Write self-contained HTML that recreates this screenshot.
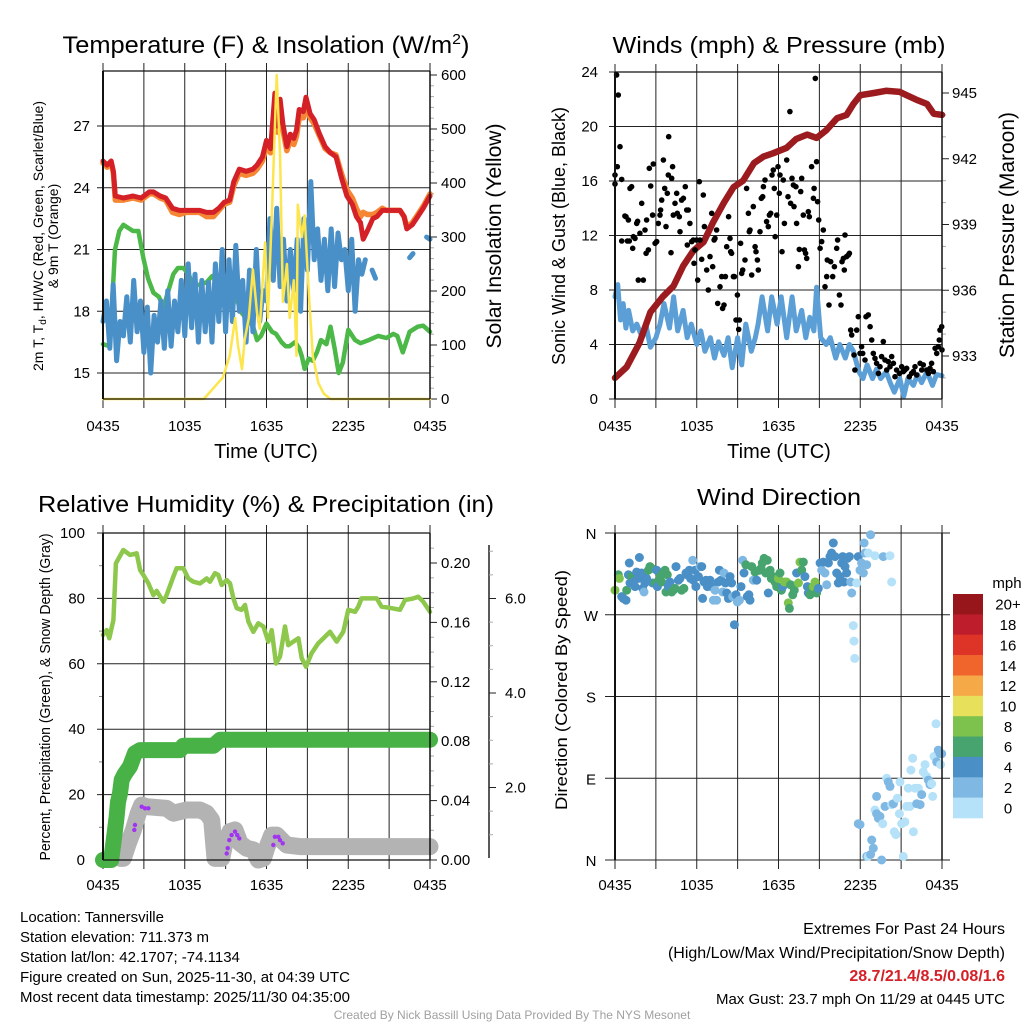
<!DOCTYPE html>
<html><head><meta charset="utf-8"><title>Tannersville Meteogram</title>
<style>
html,body{margin:0;padding:0;background:#fff;}
svg{display:block;font-family:"Liberation Sans",Arial,sans-serif;}
</style></head>
<body>
<svg id="root" xmlns="http://www.w3.org/2000/svg" width="1024" height="1024" viewBox="0 0 1024 1024">
<rect x="0" y="0" width="1024" height="1024" fill="#fff"/>
<g id="p1"></g>
<g id="p2"></g>
<g id="p3"></g>
<g id="p4"></g>

<text x="266" y="53" font-size="24" text-anchor="middle" textLength="407" lengthAdjust="spacingAndGlyphs">Temperature (F) &amp; Insolation (W/m<tspan dy="-9" font-size="15">2</tspan><tspan dy="9">)</tspan></text>
<text x="779" y="53" font-size="23" text-anchor="middle" textLength="333" lengthAdjust="spacingAndGlyphs">Winds (mph) &amp; Pressure (mb)</text>
<text x="266" y="512" font-size="23" text-anchor="middle" textLength="456" lengthAdjust="spacingAndGlyphs">Relative Humidity (%) &amp; Precipitation (in)</text>
<text x="779" y="505" font-size="23" text-anchor="middle" textLength="164" lengthAdjust="spacingAndGlyphs">Wind Direction</text>

<text transform="translate(43,236) rotate(-90)" font-size="14" text-anchor="middle" textLength="270" lengthAdjust="spacingAndGlyphs">2m T, T<tspan font-size="10" dy="3">d</tspan><tspan dy="-3">, HI/WC (Red, Green, Scarlet/Blue)</tspan></text>
<text transform="translate(58,236) rotate(-90)" font-size="14" text-anchor="middle">&amp; 9m T (Orange)</text>
<text transform="translate(501,236) rotate(-90)" font-size="21" text-anchor="middle" textLength="225" lengthAdjust="spacingAndGlyphs">Solar Insolation (Yellow)</text>
<text x="266" y="458" font-size="20" text-anchor="middle">Time (UTC)</text>

<text transform="translate(565,236) rotate(-90)" font-size="18" text-anchor="middle" textLength="258" lengthAdjust="spacingAndGlyphs">Sonic Wind &amp; Gust (Blue, Black)</text>
<text transform="translate(1014,235) rotate(-90)" font-size="21" text-anchor="middle" textLength="246" lengthAdjust="spacingAndGlyphs">Station Pressure (Maroon)</text>
<text x="779" y="458" font-size="20" text-anchor="middle">Time (UTC)</text>

<text transform="translate(50,697) rotate(-90)" font-size="15" text-anchor="middle" textLength="327" lengthAdjust="spacingAndGlyphs">Percent, Precipitation (Green), &amp; Snow Depth (Gray)</text>
<text transform="translate(567,690) rotate(-90)" font-size="17" text-anchor="middle" textLength="240" lengthAdjust="spacingAndGlyphs">Direction (Colored By Speed)</text>

<g font-size="15">
<text x="20" y="922">Location: Tannersville</text>
<text x="20" y="942">Station elevation: 711.373 m</text>
<text x="20" y="962">Station lat/lon: 42.1707; -74.1134</text>
<text x="20" y="982">Figure created on Sun, 2025-11-30, at 04:39 UTC</text>
<text x="20" y="1002">Most recent data timestamp: 2025/11/30 04:35:00</text>
</g>
<g font-size="16" text-anchor="end">
<text x="1005" y="934">Extremes For Past 24 Hours</text>
<text x="1005" y="958">(High/Low/Max Wind/Precipitation/Snow Depth)</text>
<text x="1005" y="981" fill="#d42027" font-weight="bold">28.7/21.4/8.5/0.08/1.6</text>
<text x="1005" y="1004" font-size="15">Max Gust: 23.7 mph On 11/29 at 0445 UTC</text>
</g>
<text x="512" y="1019" font-size="12" fill="#a0a0a0" text-anchor="middle">Created By Nick Bassill Using Data Provided By The NYS Mesonet</text>
</svg>

<script>
// ---------------- DATA ----------------
const timeTicks = ["0435","1035","1635","2235","0435"];
// Panel 1
const redH = [0,0.3,0.6,0.76,0.9,1.5,2.2,2.8,3.4,3.7,4.2,4.6,5.1,5.6,6.1,6.6,7.1,7.6,8.1,8.5,8.9,9.3,9.6,10.0,10.5,11.0,11.3,11.7,12.0,12.3,12.62,12.8,13.0,13.2,13.5,13.75,14.0,14.2,14.4,14.7,14.9,15.2,15.5,15.9,16.3,16.7,17.1,17.5,17.9,18.3,18.6,18.9,19.1,19.4,19.8,20.1,20.5,20.8,21.3,21.8,22.1,22.3,22.7,23.0,23.5,24];
const redV = [25.3,25.1,25.3,24.8,23.6,23.5,23.6,23.5,23.8,23.8,23.6,23.5,23.0,22.9,22.9,22.9,22.9,22.8,22.8,23.0,23.3,23.4,24.3,24.9,24.8,24.9,25.1,25.5,26.3,25.9,28.6,27.0,28.3,27.1,26.0,26.6,26.4,26.8,27.8,27.7,28.4,27.6,27.3,26.6,26.0,25.7,25.5,24.5,23.6,23.2,22.6,22.3,21.5,21.9,22.5,22.6,22.9,22.9,22.9,22.9,22.6,22.0,22.2,22.5,23.0,23.6];
const orangeV = [25.2,25.0,25.2,24.7,23.4,23.4,23.5,23.4,23.7,23.7,23.5,23.4,22.8,22.7,22.8,22.8,22.8,22.6,22.6,22.9,23.2,23.3,24.1,24.7,24.6,24.7,24.9,25.3,26.0,25.7,28.2,26.7,27.9,26.8,25.8,26.3,26.1,26.5,27.4,27.4,28.0,27.4,27.1,26.5,25.9,25.7,25.6,24.7,23.9,23.5,23.0,22.6,22.8,22.7,22.7,22.8,23.0,22.9,22.9,22.9,22.6,22.1,22.3,22.6,23.1,23.7];
const greenH = [0,0.5,0.88,1.2,1.5,2.2,2.6,2.96,3.3,3.7,4.1,4.43,4.8,5.16,5.5,5.9,6.3,6.6,7.1,7.6,8.0,8.34,8.8,9.3,9.8,10.2,10.6,11.0,11.3,11.6,12.0,12.4,12.7,13.1,13.4,13.7,14.1,14.4,14.6,14.8,15.1,15.4,15.7,16.0,16.4,16.7,17.0,17.3,17.6,18.0,18.5,18.9,19.5,20.2,20.8,21.3,21.6,22.0,22.5,23.1,23.5,24];
const greenV = [16.4,16.3,21.0,21.9,22.2,21.9,21.9,20.6,19.6,18.9,18.7,18.2,19.0,19.8,20.1,20.1,19.8,19.2,19.3,19.4,19.7,19.8,19.3,18.5,18.6,17.9,17.6,17.3,16.6,16.8,17.4,17.0,16.9,16.5,16.3,16.3,16.5,16.2,15.8,15.2,15.7,15.6,16.0,16.6,16.4,17.25,16.2,15.0,15.5,17.1,16.6,16.45,16.6,16.8,16.7,16.9,16.8,16.0,17.0,17.25,17.3,17.0];
// wind chill, every 15 minutes from 0435
const chillV = [17.5,18.5,16.2,19.3,15.6,17.5,16.8,18.7,16.5,19.5,17.0,18.5,16.0,18.2,15.0,17.8,16.5,18.5,16.2,19.0,
16.3,18.5,17.0,19.5,16.8,20.3,17.2,19.8,16.5,19.5,17.0,19.4,16.5,20.3,17.5,21.0,17.0,20.5,17.5,21.2,
18.0,19.5,16.5,20.0,17.0,21.0,17.5,19.0,18.5,22.5,19.5,23.0,19.2,21.5,18.5,21.0,19.0,21.5,18.0,22.5,
20.0,24.3,20.5,22.0,19.5,21.5,19.0,22.0,19.2,21.8,20.5,21.0,19.0,21.5,18.0,20.5,19.8,20.5,null,20.0,
19.6,null,null,null,null,null,null,null,null,null,20.6,20.8,null,null,null,21.6,21.5];
const solH = [0,7.4,8.1,8.8,9.3,9.7,9.9,10.2,10.4,10.7,11.0,11.3,11.5,11.9,12.1,12.4,12.75,13.0,13.2,13.5,13.7,14.0,14.2,14.3,14.6,14.8,15.1,15.4,15.8,16.2,16.7,24];
const solV = [0,0,20,40,80,150,100,55,110,150,240,160,130,290,150,350,600,450,180,250,150,220,80,360,300,340,200,80,30,10,0,0];
const tTicks = [15,18,21,24,27];
const solTicks = [0,100,200,300,400,500,600];
// Panel 2
const presH = [0,0.86,1.8,2.6,3.5,4.3,5.0,5.75,6.5,7.2,8.0,8.7,9.4,10.2,10.9,11.6,12.6,13.3,14.1,14.8,15.5,16.3,17.0,17.5,18.0,19.0,19.9,20.9,21.4,22.1,22.9,23.4,24];
const presV = [932.0,932.5,933.6,935.0,935.7,936.2,937.1,937.8,938.2,939.1,940.0,940.7,941.0,941.8,942.1,942.25,942.5,942.9,943.1,942.95,943.3,943.85,944.0,944.5,944.9,945.0,945.1,945.05,944.9,944.7,944.5,944.05,944.0];
const windH = [0,0.2,0.4,0.6,0.8,1.0,1.3,1.6,2.0,2.3,2.6,3.0,3.3,3.6,4.0,4.3,4.6,5.0,5.3,5.6,6.0,6.3,6.6,7.0,7.3,7.6,8.0,8.3,8.6,9.0,9.3,9.6,10.0,10.3,10.5,10.8,11.2,11.5,11.9,12.2,12.6,13.0,13.3,13.7,14.0,14.3,14.6,14.8,15.1,15.5,15.8,16.2,16.5,16.9,17.2,17.5,17.9,18.2,18.5,18.9,19.2,19.5,19.9,20.2,20.5,20.9,21.2,21.5,21.9,22.2,22.5,22.9,23.3,23.6,24];
const windV = [7.5,8.4,5.8,7.0,5.2,6.5,5.0,5.5,4.5,5.3,3.8,4.5,5.5,7.0,5.2,7.5,5.0,6.5,4.5,5.5,4.0,5.0,3.5,4.5,3.0,4.2,3.2,4.5,2.3,4.5,2.5,5.5,3.5,4.5,5.5,7.5,5.0,7.5,5.5,7.5,4.5,7.5,5.0,6.5,4.5,6.0,5.0,8.2,4.5,4.0,4.5,3.0,4.0,3.0,4.0,3.5,2.0,1.5,2.5,1.5,2.2,1.5,2.0,1.2,0.5,1.5,0.2,1.5,1.0,1.8,1.2,2.0,1.0,1.8,1.7];
const gustH = [0,0,0.12,0.24,0.17,0.37,0.49,0.49,0.73,0.81,0.91,1.05,0.98,1.1,1.22,1.35,1.3,1.47,1.59,1.66,1.71,1.83,1.96,2.08,2.2,2.32,2.28,2.45,2.52,2.62,2.76,2.81,2.94,3.06,3.18,3.3,3.35,3.43,3.55,3.65,3.74,3.84,3.91,3.94,4.11,4.16,4.23,4.28,4.4,4.53,4.57,4.72,4.77,4.89,5.02,5.16,5.26,5.31,5.38,5.5,5.63,5.75,5.8,5.87,5.99,6.07,6.19,6.24,6.36,6.48,6.56,6.73,6.85,6.97,7.1,7.17,7.27,7.34,7.46,7.54,7.71,7.83,7.9,8.0,8.1,8.2,8.34,8.44,8.49,8.56,8.69,8.76,8.88,8.98,9.08,9.13,9.22,9.3,9.37,9.54,9.66,9.79,9.86,9.91,10.03,10.15,10.28,10.35,10.45,10.52,10.64,10.74,10.84,10.89,11.01,11.13,11.25,11.33,11.43,11.52,11.62,11.69,11.76,11.87,11.96,12.06,12.11,12.26,12.35,12.43,12.6,12.7,12.84,12.89,12.99,13.09,13.14,13.28,13.33,13.46,13.53,13.63,13.7,13.82,13.9,13.99,14.07,14.19,14.26,14.43,14.56,14.61,14.7,14.8,14.87,14.95,15.05,15.17,15.29,15.41,15.54,15.58,15.71,15.83,15.98,16.1,16.27,16.34,16.47,16.59,16.66,16.76,16.83,16.88,17.0,17.13,17.2,17.3,17.37,17.54,17.61,17.74,17.86,17.98,18.1,18.18,18.35,18.42,18.59,18.72,18.84,18.96,19.08,19.2,19.33,19.45,19.57,19.69,19.82,19.94,20.06,20.18,20.31,20.43,20.55,20.67,20.87,21.04,21.16,21.28,21.41,21.6,21.77,21.9,22.02,22.14,22.39,22.51,22.63,22.87,23.0,23.12,23.24,23.36,23.49,23.61,23.73,23.8,23.85,23.98,24.0];
const gustV = [16.44,15.78,23.78,22.31,17.05,18.52,16.12,11.6,13.43,13.38,11.6,11.6,13.14,15.46,15.58,11.91,11.06,11.79,12.89,13.04,8.73,12.16,14.36,8.73,12.4,13.14,10.69,10.94,16.93,15.63,13.5,17.25,11.43,11.55,12.89,13.5,13.87,14.6,17.54,15.46,12.65,15.1,16.44,19.25,10.74,16.2,17.05,13.5,14.36,15.1,13.63,13.38,12.28,14.6,14.73,15.58,13.87,11.3,13.87,12.89,11.55,11.67,9.96,10.94,11.67,8.73,15.95,11.67,10.25,14.97,12.65,9.47,8.0,10.45,13.63,9.71,11.67,11.79,12.4,7.02,8.24,8.98,6.65,6.9,8.98,11.18,13.38,11.79,10.81,10.69,8.98,8.98,5.8,7.63,5.11,5.8,11.43,9.22,9.47,10.2,15.46,13.63,12.28,12.4,9.1,14.12,11.18,10.81,10.2,9.47,12.28,14.73,14.85,15.58,16.07,13.02,12.65,13.5,13.63,16.44,16.81,15.46,11.91,13.5,17.05,15.1,16.44,10.81,16.07,12.89,17.54,14.85,21.09,14.36,16.2,15.71,14.12,15.58,12.89,9.71,10.98,15.22,16.2,13.5,10.94,10.69,10.32,13.75,13.38,17.05,14.73,15.46,23.53,17.42,14.48,13.14,11.06,11.55,12.4,8.24,8.98,10.2,6.9,10.08,8.98,9.71,11.06,11.67,7.63,6.9,10.08,10.32,9.47,12.04,10.45,10.57,10.69,5.06,4.7,3.23,2.13,5.06,6.04,3.35,3.84,3.35,2.86,6.04,6.17,5.31,4.33,3.35,2.98,2.62,1.88,2.37,3.11,4.21,2.86,2.13,2.74,2.37,3.11,2.62,1.64,2.13,1.88,2.37,2.01,2.13,2.25,1.64,1.88,2.01,2.37,1.76,2.62,2.13,2.5,2.13,1.88,2.25,2.62,2.01,3.72,3.35,3.84,4.33,5.06,5.31,3.6];
const windTicks = [0,4,8,12,16,20,24];
const presTicks = [933,936,939,942,945];
// Panel 3
const rhH = [0,0.27,0.46,0.76,0.95,1.49,1.98,2.47,2.72,2.96,3.33,3.7,3.94,4.43,4.67,5.16,5.4,5.9,6.26,6.63,7.12,7.61,7.85,8.22,8.46,8.71,9.08,9.32,9.57,9.81,10.18,10.42,10.67,11.03,11.4,11.77,12.13,12.38,12.7,12.99,13.36,13.6,13.97,14.34,14.58,14.9,15.31,15.8,16.29,16.66,17.15,17.64,18.0,18.5,18.74,18.98,19.6,20.09,20.45,21.19,21.8,22.17,22.78,23.14,23.51,24];
const rhV = [68.8,70.3,67.8,73.4,90.7,94.8,93.3,93.8,88.7,87.2,84.6,81.0,82.3,79.0,81.0,86.6,89.2,89.2,86.1,85.1,84.6,86.1,85.1,87.7,87.2,84.1,85.6,84.6,80.0,77.0,76.5,78.0,72.9,69.8,72.4,71.4,66.8,70.3,60.1,62.2,71.4,65.7,66.8,67.8,61.7,59.1,63.2,66.3,68.3,69.8,66.8,69.8,76.5,75.9,77.5,80.0,80.0,80.0,77.5,77.0,76.5,79.5,80.0,80.5,79.0,75.9];
const precipH = [0,0.6,0.88,1.0,1.1,1.25,1.37,1.6,1.98,2.35,2.72,5.65,5.9,8.1,8.6,24];
const precipV = [0,0,0.020,0.029,0.039,0.045,0.054,0.058,0.063,0.072,0.074,0.074,0.077,0.077,0.081,0.081];
const snowH = [1.3,1.49,1.86,2.23,2.59,2.84,3.2,4.67,5.16,6.14,7.12,7.61,7.98,8.1,8.22,8.71,8.95,9.32,9.69,10.06,10.54,11.03,11.4,11.77,12.01,12.38,12.75,13.11,13.48,14.46,24];
const snowV = [0.5,0.5,5.1,9.2,14.3,16.8,16.3,15.8,14.3,15.3,15.3,14.3,12.2,6.1,0.5,0.5,5.1,8.7,9.2,5.1,3.6,3.1,0,0.5,3.6,7.6,7.6,6.1,4.6,4.1,4.1];
const flagH = [2.35,2.3,2.84,3.08,3.33,9.08,9.15,9.27,9.44,9.69,9.86,10.0,12.5,12.62,12.87,12.99,13.19];
const flagV = [10.7,9.2,16.3,15.8,15.8,2.0,3.6,6.1,7.6,8.7,7.6,6.6,4.6,7.1,7.1,6.1,5.1];
const pctTicks = [0,20,40,60,80,100];
const prTicks = [0.00,0.04,0.08,0.12,0.16,0.20];
const snowAxisTicks = ["2.0","4.0","6.0"];
// Panel 4
const dirH = [0,0.24,0.32,0.49,0.61,0.81,0.86,0.98,1.1,1.05,1.22,1.35,1.47,1.59,1.71,1.79,1.96,2.03,2.13,2.2,2.32,2.45,2.57,2.69,2.76,2.94,3.06,3.11,3.3,3.43,3.55,3.67,3.74,3.84,3.91,4.04,4.16,4.28,4.4,4.48,4.65,4.77,4.89,5.06,5.21,5.31,5.46,5.55,5.7,5.75,5.87,5.94,6.12,6.24,6.36,6.43,6.53,6.68,6.78,6.9,6.97,7.09,7.22,7.34,7.46,7.58,7.66,7.78,7.9,8.0,8.1,8.2,8.32,8.44,8.56,8.64,8.76,8.88,8.98,9.13,9.25,9.37,9.47,9.61,9.71,9.83,9.91,10.03,10.15,10.28,10.4,10.59,10.72,10.81,10.94,11.06,11.18,11.25,11.38,11.47,11.62,11.74,11.87,11.99,12.11,12.21,12.31,12.43,12.6,12.72,12.8,12.89,13.04,13.16,13.33,13.46,13.58,13.7,13.82,13.94,14.12,14.19,14.31,14.43,14.56,14.68,14.8,14.92,15.05,15.17,15.29,15.41,15.54,15.66,15.78,15.9,16.02,16.15,16.27,16.39,16.51,16.64,16.71,16.81,16.88,17.0,17.05,17.2,17.3,17.37,17.49,17.54,17.59,17.74,17.86,17.98,18.1,18.23,18.28,18.35,18.47,18.59,18.76,19.08,19.69,20.18,20.31,
17.86,17.98,18.47,18.59,18.76,18.84,18.96,19.08,19.2,19.33,19.45,19.57,19.65,19.2,19.82,19.94,20.06,20.18,20.31,20.43,20.5,20.62,20.72,20.87,20.92,21.04,21.16,21.28,21.41,21.53,21.65,21.72,21.85,21.9,22.02,22.14,22.26,22.39,22.51,22.63,22.75,22.87,23.0,23.12,23.24,23.32,23.41,23.56,23.61,23.73,23.85,23.9,23.98];
const dirDeg = [297,314,310,290,288,286,297,314,305,327,312,306,301,317,310,333,316,299,295,305,310,319,323,321,305,305,319,301,312,306,316,319,295,314,301,306,295,297,299,323,308,310,297,299,316,314,319,310,330,308,319,301,312,323,323,288,306,308,301,306,308,301,286,297,286,306,319,308,295,316,305,294,288,312,305,290,259,292,284,286,301,330,316,325,290,292,286,323,308,317,308,319,321,327,332,316,330,294,319,310,312,306,301,310,316,297,301,306,306,283,277,303,292,297,316,305,328,319,328,312,301,294,292,299,301,306,294,299,327,319,328,316,303,327,334,338,349,334,316,305,312,327,334,306,323,316,332,334,306,294,258,241,222,305,334,319,327,316,349,338,325,338,358,335,334,335,306,
40,39,4,4,6,22,13,55,51,46,48,0,40,70,59,90,86,81,61,62,31,28,68,51,86,40,4,42,59,79,59,99,112,31,79,62,79,61,72,97,105,92,88,83,84,70,114,150,108,121,117,105,117];
const dirSpd = [9,7,9,5,5,5,7,5,5,5,7,5,5,5,5,5,5,5,3,5,5,7,7,7,5,7,5,5,7,7,7,7,7,7,5,5,7,7,7,5,5,5,7,7,5,5,5,5,3,5,5,5,5,3,5,5,5,5,5,5,5,5,3,3,3,5,5,5,3,3,5,5,5,5,5,3,5,5,3,3,5,3,5,7,5,5,5,7,3,7,5,7,7,7,7,7,7,5,7,7,7,7,7,9,7,7,5,9,9,9,7,7,7,7,5,9,9,7,7,5,5,5,7,7,9,9,7,5,5,3,5,3,3,5,5,5,5,5,5,5,5,5,5,5,5,5,5,5,3,3,1,1,1,1,5,3,3,3,3,3,3,1,3,1,3,1,1,
3,3,3,1,3,3,3,1,3,3,3,3,1,3,3,1,3,3,1,3,1,1,1,1,1,1,1,1,1,1,1,1,1,1,1,3,1,3,3,1,1,1,3,3,1,1,1,1,3,3,3,1,3];
const dirTicks = ["N","E","S","W","N"];
const speedBins = ["0","2","4","6","8","10","12","14","16","18","20+"];
const speedColors = ["#b5e2f8","#7fb9e3","#4a8fc6","#48a46f","#7cc24d","#e6e05a","#f6a947","#f0652b","#de3428","#be1e2b","#96161c"];

// --------------- SCALES ---------------
const NS = "http://www.w3.org/2000/svg";
function mk(tag, parent){ const e = document.createElementNS(NS, tag); parent.appendChild(e); return e; }
function setA(e, o){ for (const k in o) e.setAttribute(k, o[k]); return e; }
const xL = h => 103 + h * 327 / 24;
const xR = h => 615 + h * 327 / 24;
const yT = v => 373 - (v - 15) * (247 / 12);
const yS = v => 399 - v * (324 / 600);
const yW = v => 399 - v * (327 / 24);
const yP = p => 93 + (945 - p) * (263 / 12);
const yRH = v => 860 - v * 3.27;
const yPr = p => 860 - p * 1485;
const ySnowAx = v => 882 - v * 47.25;
const yD = d => 860 - d * (327 / 360);

function pathD(hs, vs, fx, fy){
  let d = "", pen = false;
  for (let i = 0; i < vs.length; i++) {
    if (vs[i] === null) { pen = false; continue; }
    d += (pen ? "L" : "M") + fx(hs[i]).toFixed(1) + "," + fy(vs[i]).toFixed(1);
    pen = true;
  }
  return d;
}
function line(g, x1, y1, x2, y2, col, w, name){
  const e = mk("line", g);
  setA(e, {x1:x1, y1:y1, x2:x2, y2:y2, stroke:col, "stroke-width":w});
  
  
  return e;
}
function label(g, x, y, txt, anchor, size, name){
  const e = mk("text", g);
  setA(e, {x:x, y:y, "text-anchor":anchor, "font-size":size});
  e.textContent = txt;
  
  
  return e;
}
function series(g, d, col, w, name, cap){
  const e = mk("path", g);
  setA(e, {d:d, fill:"none", stroke:col, "stroke-width":w, "stroke-linejoin":"round", "stroke-linecap":cap||"round"});
  
  
  return e;
}
function timeGrid(g, fx, top, bot, labelY){
  for (let k = 0; k <= 8; k++) {
    const x = fx(k * 3);
    line(g, x, top - 8, x, bot + 9, "#222", 1, "x-gridline");
    if (k % 2 === 0) label(g, x, labelY, timeTicks[k / 2], "middle", 15, "x-tick-label");
  }
}

// --------------- PANEL 1 ---------------
(function(){
  const g = document.getElementById("p1");
  timeGrid(g, xL, 71, 399, 431);
  tTicks.forEach(v => { line(g, 97, yT(v), 430, yT(v), "#222", 1, "y-gridline"); label(g, 90, yT(v) + 5, String(v), "end", 15, "temp-tick-label"); });
  for (let v = 0; v <= 600; v += 20) {
    const major = v % 100 === 0;
    line(g, 430, yS(v), major ? 437 : 434, yS(v), major ? "#222" : "#aaa", 1, major ? "insolation-tick" : "insolation-minor-tick");
  }
  solTicks.forEach(v => label(g, 441, yS(v) + 5, String(v), "start", 15, "insolation-tick-label"));
  series(g, pathD(greenH, greenV, xL, yT), "#4cb848", 4.5, "dewpoint-line");
  const chillH = chillV.map((_, i) => i * 0.25);
  series(g, pathD(chillH, chillV, xL, yT), "#4a90c8", 5, "wind-chill-line");
  series(g, pathD(redH, orangeV, xL, yT), "#f58634", 5.5, "temperature-9m-line");
  series(g, pathD(redH, redV, xL, yT), "#d42027", 5, "temperature-2m-line");
  series(g, pathD(solH, solV, xL, yS), "#fde54d", 2.5, "insolation-line");
  line(g, 103, 71, 430, 71, "#111", 1.2, "plot-top-border");
  line(g, 103, 399, 430, 399, "#111", 1.2, "plot-bottom-border");
  line(g, 103, 71, 103, 399, "#111", 2, "left-axis-line");
  line(g, 430, 71, 430, 399, "#111", 1.5, "right-axis-line");
})();

// --------------- PANEL 2 ---------------
(function(){
  const g = document.getElementById("p2");
  timeGrid(g, xR, 72, 399, 431);
  windTicks.forEach(v => { line(g, 609, yW(v), 942, yW(v), "#222", 1, "y-gridline"); label(g, 598, yW(v) + 5, String(v), "end", 15, "wind-tick-label"); });
  for (let p = 932; p <= 945; p++) {
    const major = presTicks.indexOf(p) >= 0;
    line(g, 942, yP(p), major ? 949 : 946, yP(p), major ? "#222" : "#aaa", 1, major ? "pressure-tick" : "pressure-minor-tick");
  }
  presTicks.forEach(p => label(g, 952, yP(p) + 5, String(p), "start", 15, "pressure-tick-label"));
  series(g, pathD(windH, windV, xR, yW), "#5c9fd6", 5, "sonic-wind-line");
  series(g, pathD(presH, presV, xR, yP), "#9b1b1e", 6.5, "pressure-line");
  for (let i = 0; i < gustH.length; i++) {
    const c = mk("circle", g);
    setA(c, {cx:xR(gustH[i]).toFixed(1), cy:yW(gustV[i]).toFixed(1), r:2.8, fill:"#000"});
    
    
  }
  line(g, 615, 72, 942, 72, "#111", 1.2, "plot-top-border");
  line(g, 615, 399, 942, 399, "#111", 1.2, "plot-bottom-border");
  line(g, 615, 72, 615, 399, "#111", 2, "left-axis-line");
  line(g, 942, 72, 942, 399, "#111", 1.5, "right-axis-line");
})();

// --------------- PANEL 3 ---------------
(function(){
  const g = document.getElementById("p3");
  timeGrid(g, xL, 533, 860, 890);
  pctTicks.forEach(v => { line(g, 97, yRH(v), 430, yRH(v), "#222", 1, "y-gridline"); label(g, 85, yRH(v) + 5, String(v), "end", 15, "percent-tick-label"); });
  for (let i = 10; i <= 90; i += 20) line(g, 99, yRH(i), 103, yRH(i), "#888", 1, "percent-minor-tick");
  for (let k = 0; k <= 21; k++) {
    const p = k * 0.01, major = k % 4 === 0;
    line(g, 430, yPr(p), major ? 437 : 434, yPr(p), major ? "#222" : "#aaa", 1, major ? "precip-tick" : "precip-minor-tick");
  }
  prTicks.forEach(p => label(g, 441, yPr(p) + 5, p.toFixed(2), "start", 15, "precip-tick-label"));
  line(g, 489, 545, 489, 858, "#222", 1.5, "snow-axis-line");
  for (let k = 0; k <= 14; k++) {
    const v = k * 0.5, y = ySnowAx(v);
    if (y < 548 || y > 858) continue;
    const major = k % 4 === 0;
    line(g, 489, y, major ? 496 : 493, y, major ? "#222" : "#aaa", 1, major ? "snow-axis-tick" : "snow-axis-minor-tick");
  }
  snowAxisTicks.forEach(t => label(g, 505, ySnowAx(parseFloat(t)) + 5, t, "start", 15, "snow-axis-tick-label"));
  series(g, pathD(rhH, rhV, xL, yRH), "#8dc84c", 4.5, "relative-humidity-line");
  series(g, pathD(snowH, snowV, xL, yRH), "#b3b3b3", 17, "snow-depth-series");
  series(g, pathD(precipH, precipV, xL, yPr), "#48b247", 16, "precipitation-series");
  for (let i = 0; i < flagH.length; i++) {
    const c = mk("circle", g);
    setA(c, {cx:xL(flagH[i]).toFixed(1), cy:yRH(flagV[i]).toFixed(1), r:2.2, fill:"#a034f0"});
    
    
  }
  line(g, 103, 533, 430, 533, "#111", 1.2, "plot-top-border");
  line(g, 103, 860, 430, 860, "#111", 1.2, "plot-bottom-border");
  line(g, 103, 533, 103, 860, "#111", 2, "left-axis-line");
  line(g, 430, 533, 430, 860, "#111", 1.5, "right-axis-line");
})();

// --------------- PANEL 4 ---------------
(function(){
  const g = document.getElementById("p4");
  timeGrid(g, xR, 533, 860, 890);
  dirTicks.forEach((t, i) => { const y = yD(i * 90); line(g, 605, y, 950, y, "#222", 1, "y-gridline"); label(g, 591, y + 6, t, "middle", 15, "direction-tick-label"); });
  for (let i = 0; i < dirH.length; i++) {
    const bin = Math.min(10, Math.max(0, Math.floor(dirSpd[i] / 2)));
    const c = mk("circle", g);
    setA(c, {cx:xR(dirH[i]).toFixed(1), cy:yD(dirDeg[i]).toFixed(1), r:4.5, fill:speedColors[bin]});
    
    
  }
  line(g, 615, 533, 615, 860, "#111", 2, "left-axis-line");
  line(g, 942, 533, 942, 860, "#111", 1.5, "right-axis-line");
  const cb = mk("g", g);
  
  
  label(cb, 1007, 588, "mph", "middle", 15, "colorbar-title");
  const h = 224 / speedBins.length;
  for (let i = 0; i < speedBins.length; i++) {
    const idx = speedBins.length - 1 - i;
    const r = mk("rect", cb);
    setA(r, {x:953, y:(594 + i * h).toFixed(1), width:30, height:(h + 0.3).toFixed(1), fill:speedColors[idx]});
    
    
    label(cb, 1008, 594 + i * h + h / 2 + 5.5, speedBins[idx], "middle", 15, "colorbar-label");
  }
})();
</script>
</body></html>
